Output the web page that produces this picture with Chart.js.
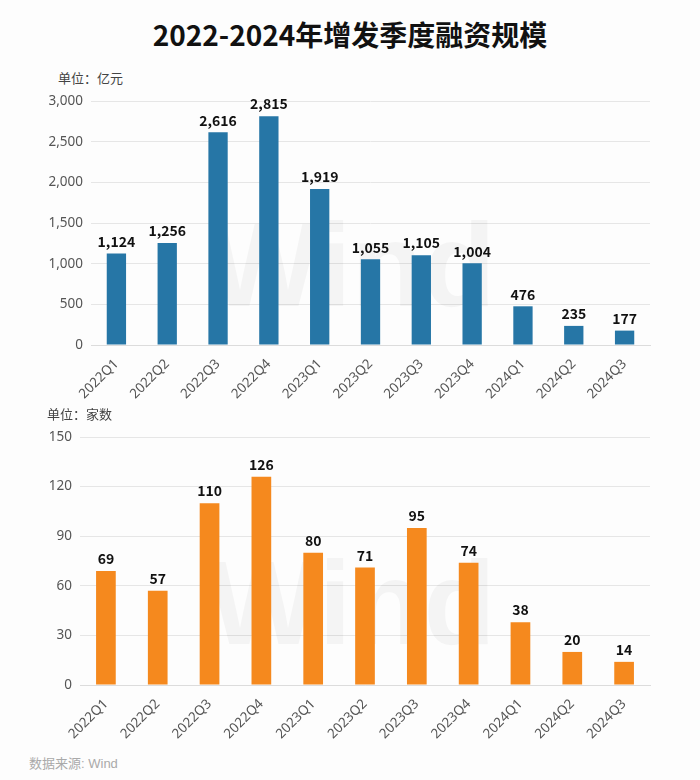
<!DOCTYPE html>
<html>
<head>
<meta charset="utf-8">
<script src="https://cdn.jsdelivr.net/npm/chart.js@4/dist/chart.umd.min.js"></script>
<style>
  body { margin: 0; background: #fdfdfd; font-family: "Noto Sans CJK SC", "Noto Sans", sans-serif; }
  #wrap { position: relative; width: 700px; height: 780px; overflow: hidden; }
  .title { position: absolute; top: 14px; left: 0; width: 700px; text-align: center; font-size: 28px; font-weight: bold; color: #111; }
  .unit { position: absolute; font-size: 13px; color: #444; }
  .src { position: absolute; left: 29px; top: 753px; font-size: 13px; color: #aaa; font-family: "Liberation Sans", "Noto Sans CJK SC", sans-serif; }
  canvas { position: absolute; left: 0; }
</style>
</head>
<body>
<div id="wrap">
  <div class="title">2022-2024年增发季度融资规模</div>
  <div class="unit" style="left:58px; top:68px;">单位：亿元</div>
  <canvas id="c1" width="700" height="320" style="top:85px"></canvas>
  <div class="unit" style="left:47px; top:404px;">单位：家数</div>
  <canvas id="c2" width="700" height="330" style="top:420px"></canvas>
  <div class="src">数据来源: Wind</div>
</div>
<script>
// quarters shown on both charts
const quarters = ['2022Q1', '2022Q2', '2022Q3', '2022Q4', '2023Q1', '2023Q2', '2023Q3', '2023Q4', '2024Q1', '2024Q2', '2024Q3'];
// financing amount, 100 million yuan
const amounts = [1124, 1256, 2616, 2815, 1919, 1055, 1105, 1004, 476, 235, 177];
// number of companies
const companies = [69, 57, 110, 126, 80, 71, 95, 74, 38, 20, 14];

// draw value above each bar
const valueLabels = {
    id: 'valueLabels',
    afterDatasetsDraw(chart) {
        const ctx = chart.ctx;
        const meta = chart.getDatasetMeta(0);
        ctx.save();
        ctx.font = 'bold 14px "Noto Sans CJK SC", "Noto Sans", sans-serif';
        ctx.fillStyle = '#111';
        ctx.textAlign = 'center';
        ctx.textBaseline = 'bottom';
        meta.data.forEach((bar, i) => {
            const v = chart.data.datasets[0].data[i];
            ctx.fillText(v.toLocaleString('en-US'), bar.x, bar.y - 5);
        });
        ctx.restore();
    }
};

// faint "Wind" watermark behind the bars
const watermark = {
    id: 'watermark',
    beforeDatasetsDraw(chart) {
        const ctx = chart.ctx;
        const a = chart.chartArea;
        ctx.save();
        ctx.font = 'bold 118px "Liberation Sans", sans-serif';
        ctx.fillStyle = 'rgba(0,0,0,0.035)';
        ctx.textAlign = 'center';
        ctx.textBaseline = 'middle';
        ctx.fillText('Wind', 352, (a.top + a.bottom) / 2 + 50);
        ctx.restore();
    }
};

function makeChart(id, values, color, maxY, step, axisLeft, plotTop, xHeight) {
    return new Chart(document.getElementById(id), {
        type: 'bar',
        data: {
            labels: quarters,
            datasets: [{
                data: values,
                backgroundColor: color,
                barPercentage: 0.38,
                categoryPercentage: 1
            }]
        },
        options: {
            responsive: false,
            animation: false,
            layout: { padding: { top: plotTop, right: 50, left: 0, bottom: 0 } },
            plugins: { legend: { display: false }, tooltip: { enabled: false } },
            scales: {
                x: {
                    grid: { display: false },
                    border: { display: true, color: '#dcdcdc' },
                    ticks: {
                        color: '#555',
                        font: { size: 13.5, family: '"Noto Sans", sans-serif' },
                        minRotation: 45,
                        maxRotation: 45,
                        padding: 3
                    },
                    afterFit(scale) { scale.height = xHeight; }
                },
                y: {
                    min: 0,
                    max: maxY,
                    grid: { color: '#e6e6e6', drawTicks: false },
                    border: { display: false },
                    ticks: {
                        stepSize: step,
                        color: '#555',
                        padding: 8,
                        font: { size: 13.5, family: '"Noto Sans", sans-serif' },
                        callback: v => v.toLocaleString('en-US')
                    },
                    afterFit(scale) { scale.width = axisLeft; }
                }
            }
        },
        plugins: [watermark, valueLabels]
    });
}

makeChart('c1', amounts, '#2676a6', 3000, 500, 91, 16, 60);
makeChart('c2', companies, '#f5891e', 150, 30, 80, 17, 65);
</script>
</body>
</html>
